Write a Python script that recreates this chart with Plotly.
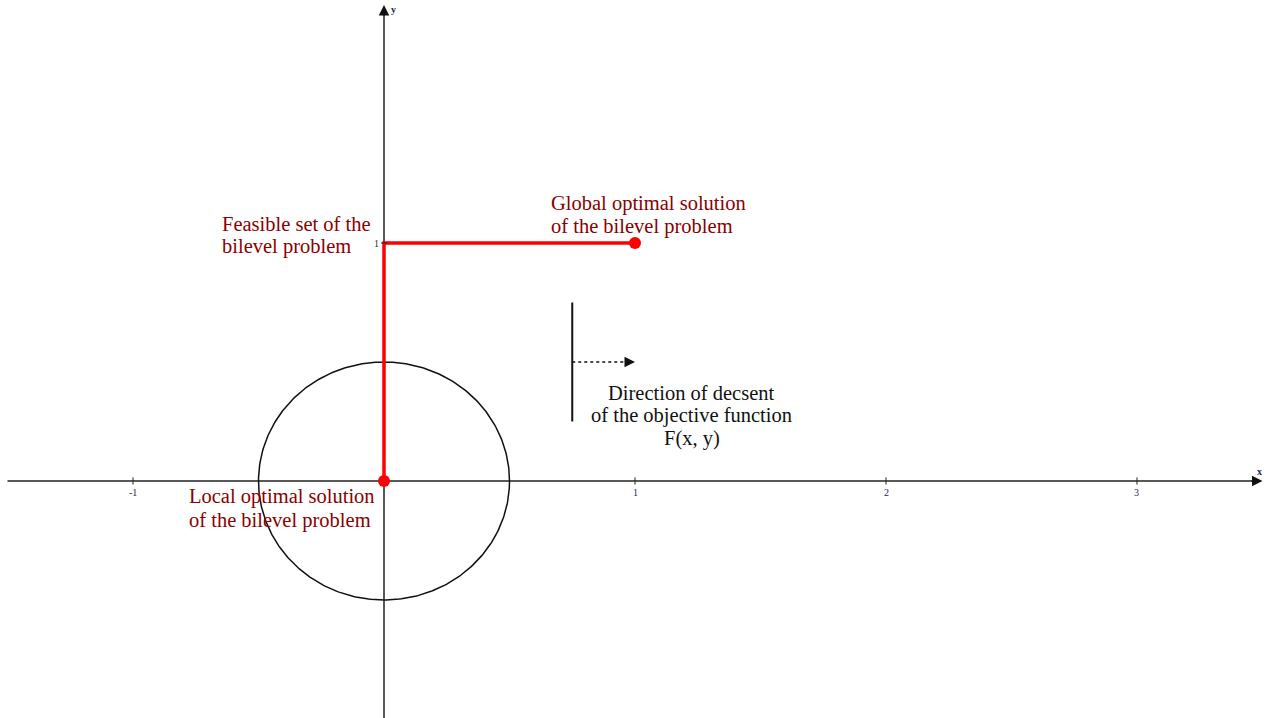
import numpy as np
import plotly.graph_objects as go

# ---- data ----
x_ticks = [-1, 1, 2, 3]
x_tick_labels = ["-1", "1", "2", "3"]
y_ticks = [1]
y_tick_labels = ["1"]
x_axis_span = [-1.5, 3.5]
y_axis_span = [-1.0, 2.0]
circle_center = [0.0, 0.0]
circle_radius = 0.5
feasible_x = [0, 0, 1]
feasible_y = [0, 1, 1]
solution_x = [0, 1]
solution_y = [0, 1]
level_x = [0.75, 0.75]
level_y = [0.25, 0.75]
descent_x = [0.75, 1.0]
descent_y = [0.5, 0.5]

global_lines = ["Global optimal solution", "of the bilevel problem"]
feasible_lines = ["Feasible set of the", "bilevel problem"]
local_lines = ["Local optimal solution", "of the bilevel problem"]
direction_lines = ["Direction of decsent", "of the objective function", "F(x, y)"]

W, H = 1277, 718
x_range = [-1.5299, 3.5578]
y_range = [-0.9958, 2.0210]
line_step = 0.0967

serif = "Liberation Serif, Times New Roman, serif"
dark_red = "#8b0000"

fig = go.Figure()

# axes
fig.add_trace(go.Scatter(x=[x_axis_span[0], x_axis_span[1] - 0.02], y=[0, 0], mode="lines",
                         line=dict(color="#222", width=1.5), hoverinfo="skip"))
fig.add_trace(go.Scatter(x=[0, 0], y=[y_axis_span[0], y_axis_span[1] - 0.02], mode="lines",
                         line=dict(color="#222", width=1.5), hoverinfo="skip"))
fig.add_annotation(x=x_axis_span[1], y=0, ax=x_axis_span[1] - 0.05, ay=0, xref="x", yref="y",
                   axref="x", ayref="y", showarrow=True, arrowhead=2, arrowsize=1.4,
                   arrowwidth=1.5, arrowcolor="#111", text="")
fig.add_annotation(x=0, y=y_axis_span[1], ax=0, ay=y_axis_span[1] - 0.05, xref="x", yref="y",
                   axref="x", ayref="y", showarrow=True, arrowhead=2, arrowsize=1.4,
                   arrowwidth=1.5, arrowcolor="#111", text="")

# ticks
for xt, lbl in zip(x_ticks, x_tick_labels):
    fig.add_shape(type="line", x0=xt, x1=xt, y0=-0.015, y1=0.015, line=dict(color="#222", width=1))
    fig.add_annotation(x=xt, y=-0.015, text=lbl, showarrow=False, yanchor="top",
                       font=dict(family=serif, size=10, color="#1a2a5a"))
for yt, lbl in zip(y_ticks, y_tick_labels):
    fig.add_shape(type="line", x0=-0.012, x1=0.012, y0=yt, y1=yt, line=dict(color="#222", width=1))
    fig.add_annotation(x=-0.012, y=yt, text=lbl, showarrow=False, xanchor="right",
                       font=dict(family=serif, size=10, color="#1a2a5a"))
fig.add_annotation(x=x_axis_span[1] - 0.01, y=0.01, text="<b>x</b>", showarrow=False,
                   yanchor="bottom", font=dict(family=serif, size=10, color="#1a2a5a"))
fig.add_annotation(x=0.02, y=y_axis_span[1] - 0.02, text="<b>y</b>", showarrow=False,
                   xanchor="left", font=dict(family=serif, size=10, color="#1a2a5a"))

# circle
t = np.linspace(0, 2 * np.pi, 361)
fig.add_trace(go.Scatter(x=circle_center[0] + circle_radius * np.cos(t),
                         y=circle_center[1] + circle_radius * np.sin(t), mode="lines",
                         line=dict(color="#111", width=1.5), hoverinfo="skip"))

# level line and descent direction
fig.add_trace(go.Scatter(x=level_x, y=level_y, mode="lines",
                         line=dict(color="#111", width=2), hoverinfo="skip"))
fig.add_trace(go.Scatter(x=[descent_x[0], descent_x[1] - 0.03], y=descent_y, mode="lines",
                         line=dict(color="#111", width=1.5, dash="3px,3px"), hoverinfo="skip"))
fig.add_annotation(x=descent_x[1], y=descent_y[1], ax=descent_x[1] - 0.04, ay=descent_y[1],
                   xref="x", yref="y", axref="x", ayref="y", showarrow=True, arrowhead=2,
                   arrowsize=1.4, arrowwidth=1.5, arrowcolor="#111", text="")

# feasible set and solutions
fig.add_trace(go.Scatter(x=feasible_x, y=feasible_y, mode="lines",
                         line=dict(color="#ff0000", width=3.5), hoverinfo="skip"))
fig.add_trace(go.Scatter(x=solution_x, y=solution_y, mode="markers",
                         marker=dict(color="#ff0000", size=12), hoverinfo="skip"))


def add_block(lines, x, y_first, anchor, color):
    for i, s in enumerate(lines):
        fig.add_annotation(x=x, y=y_first - i * line_step, text=s, showarrow=False,
                           xanchor=anchor, yanchor="middle",
                           font=dict(family=serif, size=20.5, color=color))


add_block(global_lines, 0.657, 1.168, "left", dark_red)
add_block(feasible_lines, -0.653, 1.080, "left", dark_red)
add_block(local_lines, -0.785, -0.0672, "left", dark_red)
add_block(direction_lines, 1.227, 0.370, "center", "#111")

fig.update_layout(
    width=W, height=H, margin=dict(l=0, r=0, t=0, b=0),
    paper_bgcolor="white", plot_bgcolor="white", showlegend=False,
    xaxis=dict(range=x_range, visible=False, fixedrange=True),
    yaxis=dict(range=y_range, visible=False, fixedrange=True),
)
fig.write_html("out.html")
